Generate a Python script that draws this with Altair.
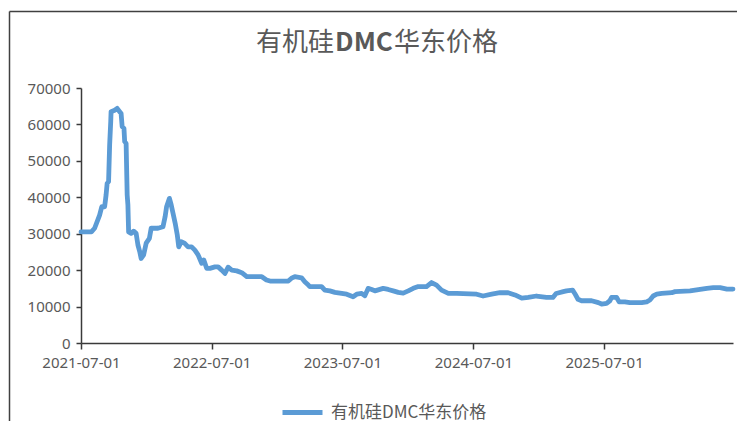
import altair as alt
import pandas as pd

series_name = "有机硅DMC华东价格"
title_parts = ["有机硅", "DMC", "华东价格"]

dates = [
    "2021-07-01", "2021-07-30", "2021-08-08", "2021-08-22", "2021-08-28", "2021-09-05",
    "2021-09-09", "2021-09-12", "2021-09-16", "2021-09-19", "2021-09-22", "2021-09-23",
    "2021-10-03", "2021-10-10", "2021-10-17", "2021-10-21", "2021-10-24", "2021-10-29",
    "2021-10-31", "2021-11-04", "2021-11-07", "2021-11-09", "2021-11-11", "2021-11-18",
    "2021-11-25", "2021-12-02", "2021-12-07", "2021-12-12", "2021-12-16", "2021-12-23",
    "2021-12-30", "2022-01-08", "2022-01-13", "2022-02-01", "2022-02-15", "2022-02-21",
    "2022-02-25", "2022-03-05", "2022-03-10", "2022-03-15", "2022-03-21", "2022-03-27",
    "2022-03-31", "2022-04-07", "2022-04-16", "2022-04-26", "2022-05-06", "2022-05-15",
    "2022-05-24", "2022-06-03", "2022-06-09", "2022-06-17", "2022-06-26", "2022-07-10",
    "2022-07-19", "2022-07-29", "2022-08-07", "2022-08-16", "2022-08-26", "2022-09-09",
    "2022-09-23", "2022-10-07", "2022-11-18", "2022-12-01", "2022-12-11", "2023-01-31",
    "2023-02-09", "2023-02-18", "2023-03-09", "2023-03-18", "2023-03-28", "2023-04-01",
    "2023-05-04", "2023-05-13", "2023-05-27", "2023-06-10", "2023-06-29", "2023-07-13",
    "2023-07-31", "2023-08-10", "2023-08-24", "2023-09-02", "2023-09-11", "2023-09-21",
    "2023-09-30", "2023-10-23", "2023-11-06", "2023-11-20", "2023-12-04", "2023-12-18",
    "2024-01-01", "2024-01-15", "2024-01-29", "2024-02-21", "2024-03-06", "2024-03-20",
    "2024-04-03", "2024-04-22", "2024-05-15", "2024-07-10", "2024-07-28", "2024-08-21",
    "2024-09-13", "2024-10-06", "2024-10-25", "2024-11-13", "2024-12-01", "2024-12-24",
    "2025-01-21", "2025-02-08", "2025-02-17", "2025-03-09", "2025-03-18", "2025-04-04",
    "2025-04-10", "2025-04-19", "2025-04-29", "2025-05-27", "2025-06-15", "2025-06-24",
    "2025-07-08", "2025-07-17", "2025-07-22", "2025-08-05", "2025-08-12", "2025-08-28",
    "2025-09-11", "2025-10-14", "2025-10-28", "2025-11-06", "2025-11-15", "2025-11-25",
    "2025-12-09", "2026-01-06", "2026-01-15", "2026-02-26", "2026-03-26", "2026-04-14",
    "2026-05-02", "2026-05-21", "2026-06-09", "2026-06-26",
]

prices = [
    30500, 30500, 31500, 35100, 37400, 37400,
    40600, 43800, 44300, 54400, 60700, 63500,
    63900, 64400, 63500, 63000, 59400, 58900,
    55300, 54800, 40600, 37900, 30500, 30100,
    30700, 30100, 26900, 25100, 23200, 24200,
    27400, 28700, 31500, 31500, 31900, 34700,
    37400, 39700, 37900, 35600, 32900, 29600,
    26400, 27800, 27400, 26400, 26400, 25500,
    24200, 21900, 22800, 20500, 20500, 20900,
    20900, 20000, 19100, 20800, 20000, 19800,
    19300, 18200, 18200, 17300, 17000, 17000,
    17800, 18200, 17900, 16800, 15900, 15500,
    15500, 14500, 14300, 13900, 13600, 13400,
    12700, 13400, 13600, 13000, 15000, 14700,
    14300, 15000, 14700, 14300, 13900, 13700,
    14300, 15000, 15500, 15500, 16600, 15900,
    14500, 13600, 13600, 13400, 12900, 13400,
    13800, 13800, 13200, 12300, 12500, 12900,
    12500, 12500, 13600, 14100, 14300, 14500,
    13600, 12000, 11600, 11600, 11100, 10700,
    10900, 11600, 12500, 12500, 11300, 11300,
    11100, 11100, 11300, 11800, 12900, 13400,
    13600, 13800, 14100, 14300, 14700, 15000,
    15200, 15200, 14800, 14800,
]

x_tick_dates = [(2021, 7, 1), (2022, 7, 1), (2023, 7, 1), (2024, 7, 1), (2025, 7, 1)]
y_ticks = [0, 10000, 20000, 30000, 40000, 50000, 60000, 70000]

df = pd.DataFrame({"date": dates, "price": prices, "series": series_name})

LINE_COLOR = "#5B9BD5"
TEXT_COLOR = "#595959"
AXIS_COLOR = "#3a3a3a"

line = alt.Chart(df).mark_line(
    strokeWidth=4.8, strokeJoin="round", strokeCap="round"
).encode(
    x=alt.X(
        "date:T",
        scale=alt.Scale(
            type="utc",
            domain=[
                alt.DateTime(year=2021, month=7, date=1, utc=True),
                alt.DateTime(year=2026, month=6, date=26, utc=True),
            ],
        ),
        axis=alt.Axis(
            title=None,
            values=[alt.DateTime(year=y, month=m, date=d, utc=True) for (y, m, d) in x_tick_dates],
            labelExpr="utcFormat(datum.value, '%Y-%m-%d')",
            grid=False,
            domainColor=AXIS_COLOR,
            domainWidth=1.5,
            tickColor=AXIS_COLOR,
            tickWidth=1.5,
            tickSize=6,
            labelPadding=6,
            labelFont="Noto Sans",
            labelFontSize=15,
            labelColor=TEXT_COLOR,
            labelFlush=False,
            labelOverlap=False,
        ),
    ),
    y=alt.Y(
        "price:Q",
        scale=alt.Scale(domain=[0, 70000], nice=False, zero=True),
        axis=alt.Axis(
            title=None,
            values=y_ticks,
            format="d",
            grid=False,
            domainColor=AXIS_COLOR,
            domainWidth=1.5,
            tickColor=AXIS_COLOR,
            tickWidth=1.5,
            tickSize=5,
            labelPadding=6,
            labelFont="Noto Sans",
            labelFontSize=15,
            labelColor=TEXT_COLOR,
        ),
    ),
    color=alt.Color(
        "series:N",
        scale=alt.Scale(domain=[series_name], range=[LINE_COLOR]),
        legend=alt.Legend(
            title=None,
            orient="none",
            legendX=199,
            legendY=302,
            symbolType="stroke",
            symbolSize=1600,
            symbolStrokeWidth=4.8,
            labelFont="Noto Sans CJK SC",
            labelFontSize=17,
            labelColor=TEXT_COLOR,
            labelOffset=6,
        ),
    ),
)

one = pd.DataFrame({"k": [0]})

def title_piece(text, x, align, weight):
    return alt.Chart(one).mark_text(
        text=text,
        font="Noto Sans CJK SC",
        fontSize=26,
        fontWeight=weight,
        color=TEXT_COLOR,
        align=align,
        baseline="middle",
    ).encode(x=alt.value(x), y=alt.value(-45))

t1 = title_piece(title_parts[0], 253, "right", "normal")
t2 = title_piece(title_parts[1], 283, "center", "bold")
t3 = title_piece(title_parts[2], 313, "left", "normal")

left_border = alt.Chart(one).mark_rule(color="#404040", strokeWidth=1.5).encode(
    x=alt.value(-71.5), y=alt.value(-76.5), y2=alt.value(360)
)
top_border = alt.Chart(one).mark_rule(color="#404040", strokeWidth=1.5).encode(
    y=alt.value(-76.5), x=alt.value(-71.5), x2=alt.value(700)
)

chart = alt.layer(left_border, top_border, t1, t2, t3, line).properties(
    width=652,
    height=255,
    autosize=alt.AutoSizeParams(type="none"),
    padding={"left": 73, "top": 80, "right": 4, "bottom": 78},
    background="white",
).configure_view(stroke=None)

chart.save("out.html", embed_options={"renderer": "svg", "actions": False})
